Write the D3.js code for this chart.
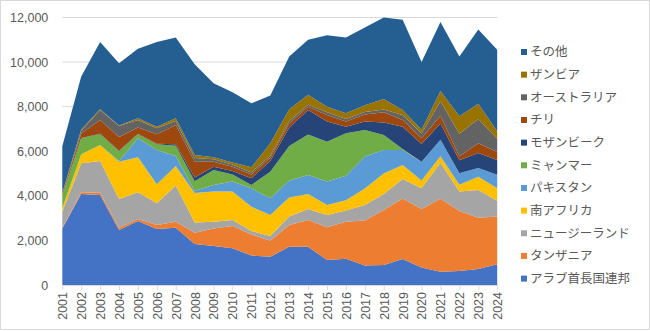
<!DOCTYPE html>
<html>
<head>
<meta charset="utf-8">
<script src="https://cdn.jsdelivr.net/npm/d3@7"></script>
<style>
  body { margin: 0; background: #fff; }
  svg text { font-family: "Noto Sans CJK JP", "Liberation Sans", sans-serif; fill: #595959; }
</style>
</head>
<body>
<div id="chart"></div>
<script>
// years on the category axis
const years = d3.range(2001, 2025);

// one series per source, bottom layer first
const seriesNames = ["アラブ首長国連邦", "タンザニア", "ニュージーランド", "南アフリカ", "パキスタン",
    "ミャンマー", "モザンビーク", "チリ", "オーストラリア", "ザンビア", "その他"];

const uae = [2540, 4080, 4040, 2470, 2870, 2510, 2570, 1840, 1750, 1650, 1320, 1270, 1720, 1720, 1120, 1180, 870, 900, 1170, 780, 600, 630, 720, 930];
const tanzania = [30, 80, 100, 100, 90, 180, 270, 500, 790, 1000, 950, 720, 970, 1200, 1470, 1660, 2020, 2470, 2710, 2630, 3270, 2690, 2300, 2140];
const newZealand = [720, 1300, 1420, 1290, 1200, 980, 1620, 460, 300, 270, 150, 210, 380, 490, 550, 500, 700, 710, 880, 930, 1610, 870, 1240, 710];
const southAfrica = [150, 400, 720, 1670, 1570, 850, 880, 1330, 1350, 1270, 1090, 940, 860, 670, 450, 460, 740, 920, 620, 350, 300, 310, 600, 560];
const pakistan = [0, 0, 0, 30, 850, 1540, 450, 100, 300, 450, 830, 750, 760, 860, 1050, 1100, 1440, 1060, 680, 840, 740, 510, 390, 610];
const myanmar = [560, 720, 480, 440, 180, 250, 460, 420, 670, 320, 150, 1190, 1550, 1810, 1790, 1910, 1180, 670, 40, 0, 0, 0, 0, 0];
const mozambique = [0, 20, 20, 20, 20, 30, 60, 170, 150, 150, 300, 480, 820, 1100, 900, 290, 380, 560, 1000, 790, 730, 590, 670, 660];
const chile = [80, 200, 620, 620, 290, 420, 870, 710, 220, 200, 170, 150, 190, 150, 300, 230, 320, 460, 300, 260, 340, 180, 440, 360];
const australia = [30, 120, 450, 490, 330, 270, 180, 170, 110, 100, 90, 90, 110, 90, 120, 120, 110, 120, 230, 220, 650, 1000, 1090, 590];
const zambia = [20, 60, 30, 20, 80, 70, 120, 130, 90, 90, 230, 560, 520, 450, 250, 250, 300, 470, 220, 160, 460, 790, 680, 340];
const others = [2090, 2370, 3020, 2800, 3120, 3800, 3620, 4070, 3320, 3150, 2870, 2140, 2370, 2460, 3200, 3400, 3490, 3660, 4050, 3040, 3100, 2680, 3330, 3650];

const seriesValues = [uae, tanzania, newZealand, southAfrica, pakistan, myanmar, mozambique, chile, australia, zambia, others];

const yTicks = [0, 2000, 4000, 6000, 8000, 10000, 12000];

const colors = ["#4472C4", "#ED7D31", "#A5A5A5", "#FFC000", "#5B9BD5", "#70AD47",
    "#264478", "#9E480E", "#636363", "#997300", "#255E91"];

// rows for d3.stack
const rows = years.map((yr, i) => {
    const row = { year: yr };
    seriesNames.forEach((name, k) => row[name] = seriesValues[k][i]);
    return row;
});

const width = 650, height = 331;
const plot = { left: 62.3, right: 497.2, top: 17.5, bottom: 285 };

const svg = d3.select("#chart").append("svg")
    .attr("width", width)
    .attr("height", height);

// chart frame
svg.append("rect")
    .attr("x", 0.5).attr("y", 0.5)
    .attr("width", width - 1).attr("height", height - 2)
    .attr("fill", "#fff")
    .attr("stroke", "#D9D9D9");

const x = d3.scalePoint().domain(years).range([plot.left, plot.right]);
const y = d3.scaleLinear().domain([0, 12000]).range([plot.bottom, plot.top]);

// gridlines
svg.append("g")
    .selectAll("line")
    .data(yTicks.filter(d => d > 0))
    .join("line")
    .attr("x1", plot.left).attr("x2", plot.right)
    .attr("y1", d => y(d)).attr("y2", d => y(d))
    .attr("stroke", "#D9D9D9")
    .attr("stroke-width", 1);

const stack = d3.stack().keys(seriesNames);
const layers = stack(rows);

const area = d3.area()
    .x(d => x(d.data.year))
    .y0(d => y(d[0]))
    .y1(d => y(d[1]));

svg.append("g")
    .selectAll("path")
    .data(layers)
    .join("path")
    .attr("d", area)
    .attr("fill", (d, i) => colors[i]);

// y axis labels
const yAxis = d3.axisLeft(y)
    .tickValues(yTicks)
    .tickSize(0)
    .tickPadding(14)
    .tickFormat(d3.format(","));

svg.append("g")
    .attr("transform", `translate(${plot.left},0)`)
    .call(yAxis)
    .call(g => g.select(".domain").remove())
    .selectAll("text")
    .style("font-size", "12.5px")
    .style("font-family", "'Liberation Sans', sans-serif");

// x axis with rotated year labels
const xAxis = d3.axisBottom(x).tickSize(5).tickSizeOuter(0);

const gx = svg.append("g")
    .attr("transform", `translate(0,${plot.bottom})`)
    .call(xAxis);

gx.select(".domain").attr("stroke", "#D9D9D9");
gx.selectAll(".tick line").attr("stroke", "#D9D9D9");
gx.selectAll("text")
    .attr("transform", "rotate(-90)")
    .attr("text-anchor", "end")
    .attr("x", -7)
    .attr("y", 0)
    .attr("dy", "0.35em")
    .style("font-size", "12.5px")
    .style("font-family", "'Liberation Sans', sans-serif");

// legend, top entry is the top layer
const legendItems = seriesNames.map((n, i) => ({ name: n, color: colors[i] })).reverse();

const legend = svg.append("g")
    .attr("transform", "translate(521,52)");

const item = legend.selectAll("g")
    .data(legendItems)
    .join("g")
    .attr("transform", (d, i) => `translate(0,${i * 22.66})`);

item.append("rect")
    .attr("x", 0).attr("y", -3)
    .attr("width", 6).attr("height", 6)
    .attr("fill", d => d.color);

item.append("text")
    .attr("x", 9)
    .attr("y", 0)
    .attr("dy", "0.35em")
    .style("font-size", "12.5px")
    .text(d => d.name);
</script>
</body>
</html>
